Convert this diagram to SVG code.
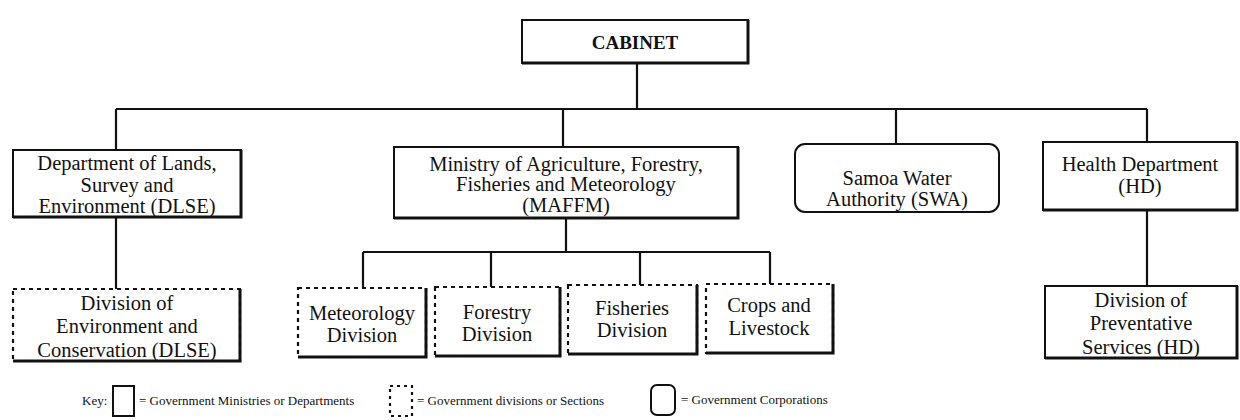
<svg xmlns="http://www.w3.org/2000/svg" width="1240" height="420" viewBox="0 0 1240 420">
<style>
  .box{fill:#fff;stroke:#111;stroke-width:2}
  .dash{fill:#fff;stroke:#111;stroke-width:2.2;stroke-dasharray:4 4}
  .sh{fill:none;stroke:#111;stroke-width:3}
  .t{font-family:"Liberation Serif","Times New Roman",serif;font-size:20.5px;fill:#111;text-anchor:middle}
  .b{font-weight:bold;font-size:19px}
  .k{font-family:"Liberation Serif","Times New Roman",serif;font-size:13px;fill:#111}
  .c{fill:none;stroke:#111;stroke-width:2.2}
</style>
<rect width="1240" height="420" fill="#fff"/>
<g id="connectors" class="c">
  <path d="M637 63V109M116 109H1147M116 109V150M563 109V147M896 109V144M1147 109V142"/>
  <path d="M116 217V289"/>
  <path d="M566 218V252M363 252H770M363 252V288M491 252V287M640 252V285M770 252V284"/>
  <path d="M1147 210V286"/>
</g>
<g id="cabinet">
  <rect class="box" x="522" y="20" width="226" height="43"/>
  <path class="sh" d="M522 63H748V20"/>
  <text class="t b" x="635" y="49">CABINET</text>
</g>
<g id="dlse">
  <rect class="box" x="13" y="150" width="228" height="67"/>
  <path class="sh" d="M13 217H241V150"/>
  <text class="t" x="127" y="170">Department of Lands,</text>
  <text class="t" x="127" y="192">Survey and</text>
  <text class="t" x="127" y="213">Environment (DLSE)</text>
</g>
<g id="maffm">
  <rect class="box" x="394" y="147" width="344" height="71"/>
  <path class="sh" d="M394 218H738V147"/>
  <text class="t" x="566" y="171">Ministry of Agriculture, Forestry,</text>
  <text class="t" x="566" y="191">Fisheries and Meteorology</text>
  <text class="t" x="566" y="212">(MAFFM)</text>
</g>
<g id="swa">
  <rect class="box" x="795" y="144" width="204" height="68" rx="10"/>
  <text class="t" x="897" y="185">Samoa Water</text>
  <text class="t" x="897" y="206">Authority (SWA)</text>
</g>
<g id="hd">
  <rect class="box" x="1043" y="142" width="194" height="68"/>
  <path class="sh" d="M1043 210H1237V142"/>
  <text class="t" x="1140" y="171">Health Department</text>
  <text class="t" x="1140" y="193">(HD)</text>
</g>
<g id="dec">
  <rect class="dash" x="13" y="289" width="227" height="72"/>
  <path class="sh" d="M13 361H240V289"/>
  <text class="t" x="127" y="310">Division of</text>
  <text class="t" x="127" y="333">Environment and</text>
  <text class="t" x="127" y="357">Conservation (DLSE)</text>
</g>
<g id="meteorology">
  <rect class="dash" x="298" y="288" width="128" height="69"/>
  <path class="sh" d="M298 357H426V288"/>
  <text class="t" x="362" y="320">Meteorology</text>
  <text class="t" x="362" y="342">Division</text>
</g>
<g id="forestry">
  <rect class="dash" x="435" y="287" width="125" height="69"/>
  <path class="sh" d="M435 356H560V287"/>
  <text class="t" x="497" y="319">Forestry</text>
  <text class="t" x="497" y="341">Division</text>
</g>
<g id="fisheries">
  <rect class="dash" x="568" y="285" width="129" height="69"/>
  <path class="sh" d="M568 354H697V285"/>
  <text class="t" x="632" y="315">Fisheries</text>
  <text class="t" x="632" y="337">Division</text>
</g>
<g id="crops">
  <rect class="dash" x="706" y="284" width="127" height="69"/>
  <path class="sh" d="M706 353H833V284"/>
  <text class="t" x="769" y="312">Crops and</text>
  <text class="t" x="769" y="335">Livestock</text>
</g>
<g id="hdprev">
  <rect class="box" x="1045" y="286" width="192" height="72"/>
  <path class="sh" d="M1045 358H1237V286"/>
  <text class="t" x="1141" y="307">Division of</text>
  <text class="t" x="1141" y="330">Preventative</text>
  <text class="t" x="1141" y="354">Services (HD)</text>
</g>
<g id="key">
  <text class="k" x="82" y="405">Key:</text>
  <rect class="box" x="113" y="386" width="21" height="30"/>
  <text class="k" x="139" y="405">= Government Ministries or Departments</text>
  <rect class="dash" x="390" y="386" width="22" height="30" style="stroke-dasharray:3 4"/>
  <text class="k" x="417" y="405">= Government divisions or Sections</text>
  <rect class="box" x="651" y="385" width="24" height="30" rx="6"/>
  <text class="k" x="681" y="404">= Government Corporations</text>
</g>
</svg>
